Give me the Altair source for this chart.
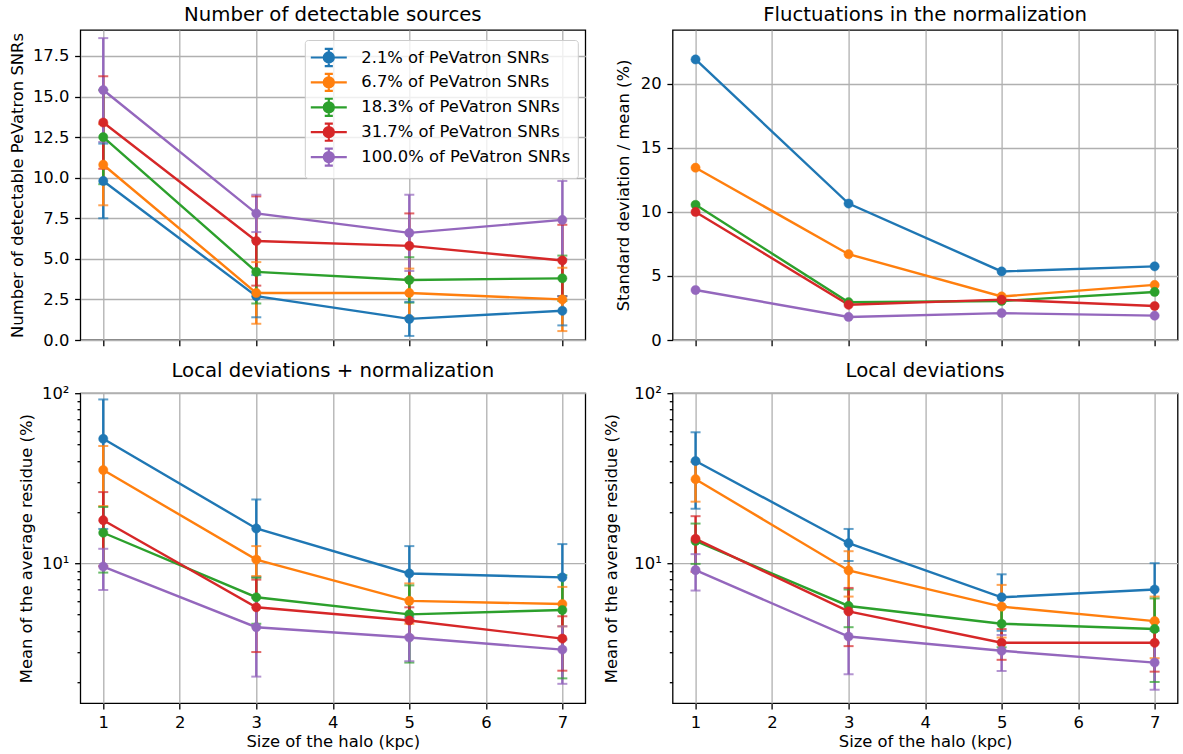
import altair as alt
import pandas as pd

# ---------------- data ----------------
halo = [1, 3, 5, 7]
series = [
    "2.1% of PeVatron SNRs",
    "6.7% of PeVatron SNRs",
    "18.3% of PeVatron SNRs",
    "31.7% of PeVatron SNRs",
    "100.0% of PeVatron SNRs",
]
colors = ["#1f77b4", "#ff7f0e", "#2ca02c", "#d62728", "#9467bd"]

# Number of detectable sources
n_mean = [
    [9.8, 2.7, 1.3, 1.8],
    [10.8, 2.9, 2.9, 2.5],
    [12.5, 4.2, 3.7, 3.8],
    [13.4, 6.1, 5.8, 4.9],
    [15.4, 7.8, 6.6, 7.4],
]
n_err = [
    [2.3, 1.3, 1.05, 0.9],
    [2.5, 1.9, 1.5, 1.95],
    [2.9, 1.95, 1.4, 1.4],
    [2.85, 2.75, 2.0, 2.2],
    [3.2, 1.15, 2.35, 2.4],
]

# Fluctuations in the normalization
fluct = [
    [21.9, 10.65, 5.35, 5.75],
    [13.45, 6.7, 3.4, 4.3],
    [10.55, 2.95, 3.05, 3.75],
    [10.0, 2.75, 3.15, 2.65],
    [3.9, 1.8, 2.1, 1.9],
]

# Local deviations + normalization
ln_mean = [
    [53.9, 16.0, 8.7, 8.25],
    [35.3, 10.5, 6.0, 5.75],
    [15.1, 6.3, 5.0, 5.3],
    [17.9, 5.5, 4.6, 3.6],
    [9.55, 4.2, 3.65, 3.1],
]
ln_err = [
    [38.0, 7.7, 3.9, 4.7],
    [13.6, 2.1, 1.6, 1.5],
    [6.3, 1.9, 2.4, 3.2],
    [8.3, 2.5, 0.9, 1.27],
    [2.6, 2.05, 1.0, 1.15],
]

# Local deviations
ld_mean = [
    [39.9, 13.1, 6.3, 7.0],
    [31.2, 9.06, 5.55, 4.56],
    [13.5, 5.6, 4.4, 4.1],
    [13.9, 5.2, 3.4, 3.4],
    [9.1, 3.7, 3.05, 2.6],
]
ld_err = [
    [19.0, 2.8, 2.3, 3.0],
    [8.2, 2.7, 1.9, 1.8],
    [3.6, 1.4, 1.2, 2.1],
    [5.0, 1.95, 0.7, 1.1],
    [2.2, 1.48, 0.73, 0.8],
]

log_ticks = [2, 3, 4, 5, 6, 7, 8, 9, 10, 20, 30, 40, 50, 60, 70, 80, 90, 100]


def frame(means, errs):
    rows = []
    for k, s in enumerate(series):
        for i, x in enumerate(halo):
            m = means[k][i]
            e = errs[k][i] if errs is not None else 0.0
            rows.append(dict(series=s, k=k, halo=x, mean=m, lo=m - e, hi=m + e))
    return pd.DataFrame(rows)


FONT = "DejaVu Sans"
LABEL_FS = 16.4
TITLE_FS = 19.7
LW = 2.4
W, H = 505, 310

legend_path = (
    "M-2,0H2M0,-0.95V0.95M-0.45,-0.95H0.45M-0.45,0.95H0.45"
    "M-0.56,0A0.56,0.56,0,1,0,0.56,0A0.56,0.56,0,1,0,-0.56,0Z"
)


def make_legend():
    return alt.Legend(
        title=None,
        orient="none",
        legendX=224.5,
        legendY=10,
        padding=7,
        rowPadding=-2.1,
        symbolType=legend_path,
        symbolSize=324,
        symbolStrokeWidth=2.2,
        symbolOffset=6.5,
        labelOffset=22,
        labelFont=FONT,
        labelFontSize=LABEL_FS,
        labelColor="black",
        labelLimit=400,
        fillColor="rgba(255,255,255,0.8)",
        strokeColor="#cccccc",
        cornerRadius=3,
        symbolOpacity=1,
    )


def panel(df, title, ytitle, yscale, yaxis_kw, show_xlabels, show_legend, errors, title_pad):
    xaxis = alt.Axis(
        values=[1, 2, 3, 4, 5, 6, 7],
        format="d",
        labels=show_xlabels,
        title="Size of the halo (kpc)" if show_xlabels else None,
        titlePadding=3,
    )
    yaxis = alt.Axis(title=ytitle, titlePadding=title_pad, **yaxis_kw)
    x = alt.X("halo:Q", scale=alt.Scale(domain=[0.7, 7.3], nice=False, zero=False), axis=xaxis)
    stroke = alt.Stroke(
        "series:N",
        scale=alt.Scale(domain=series, range=colors),
        sort=series,
        legend=make_legend() if show_legend else None,
    )
    fill = alt.Fill(
        "series:N",
        scale=alt.Scale(domain=series, range=colors),
        sort=series,
        legend=make_legend() if show_legend else None,
    )
    base = alt.Chart(df)
    layers = []
    if errors:
        layers.append(
            base.mark_rule(strokeWidth=LW).encode(
                x=x, y=alt.Y("lo:Q", scale=yscale, axis=yaxis), y2="hi:Q", stroke=stroke
            )
        )
        layers.append(
            base.mark_tick(orient="horizontal", size=10, thickness=2).encode(
                x=x, y=alt.Y("lo:Q", scale=yscale, axis=yaxis), fill=fill
            )
        )
        layers.append(
            base.mark_tick(orient="horizontal", size=10, thickness=2).encode(
                x=x, y=alt.Y("hi:Q", scale=yscale, axis=yaxis), fill=fill
            )
        )
    layers.append(
        base.mark_line(strokeWidth=LW).encode(
            x=x, y=alt.Y("mean:Q", scale=yscale, axis=yaxis), stroke=stroke, detail="k:N"
        )
    )
    layers.append(
        base.mark_circle(size=85, opacity=1, strokeWidth=0.5).encode(
            x=x, y=alt.Y("mean:Q", scale=yscale, axis=yaxis), fill=fill, stroke=stroke
        )
    )
    return alt.layer(*layers).properties(
        width=W, height=H, title=alt.TitleParams(title)
    )


cond = "datum.value == 10 || datum.value == 100"
log_axis = dict(
    values=log_ticks,
    labelExpr="datum.value == 10 ? '10\u00b9' : (datum.value == 100 ? '10\u00b2' : '')",
    labelOverlap=False,
    tickSize={"condition": {"test": cond, "value": 5.7}, "value": 3.3},
    gridOpacity={"condition": {"test": cond, "value": 1}, "value": 0},
)

p1 = panel(
    frame(n_mean, n_err),
    "Number of detectable sources",
    "Number of detectable PeVatron SNRs",
    alt.Scale(domain=[0, 19.1], nice=False, zero=False),
    dict(values=[0, 2.5, 5, 7.5, 10, 12.5, 15, 17.5], format=".1f"),
    False, True, True, 7.4,
)
p2 = panel(
    frame(fluct, None),
    "Fluctuations in the normalization",
    "Standard deviation / mean (%)",
    alt.Scale(domain=[0, 24.2], nice=False, zero=False),
    dict(values=[0, 5, 10, 15, 20], format="d"),
    False, False, False, 9,
)
p3 = panel(
    frame(ln_mean, ln_err),
    "Local deviations + normalization",
    "Mean of the average residue (%)",
    alt.Scale(type="log", domain=[1.5, 100], nice=False),
    log_axis,
    True, False, True, 7,
)
p4 = panel(
    frame(ld_mean, ld_err),
    "Local deviations",
    "Mean of the average residue (%)",
    alt.Scale(type="log", domain=[1.5, 100], nice=False),
    log_axis,
    True, False, True, 13.8,
)

chart = (
    alt.concat(p1, p2, p3, p4, columns=2, spacing={"row": 9.2, "column": 16.3})
    .resolve_legend(fill="independent", stroke="independent")
    .properties(padding={"left": 8.3, "top": 4, "right": 4, "bottom": 0}, background="white")
    .configure(font=FONT)
    .configure_view(stroke="black", strokeWidth=1.3)
    .configure_axis(
        domain=False,
        grid=True,
        gridColor="#b0b0b0",
        gridWidth=1.3,
        tickColor="black",
        tickWidth=1.3,
        tickSize=5.7,
        labelPadding=5.7,
        labelFont=FONT,
        labelFontSize=LABEL_FS,
        labelColor="black",
        titleFont=FONT,
        titleFontSize=LABEL_FS,
        titleFontWeight="normal",
        titleColor="black",
    )
    .configure_title(font=FONT, fontSize=TITLE_FS, fontWeight="normal", color="black", anchor="middle", offset=5)
)

chart.save("out.html", embed_options={"renderer": "svg", "actions": False})
